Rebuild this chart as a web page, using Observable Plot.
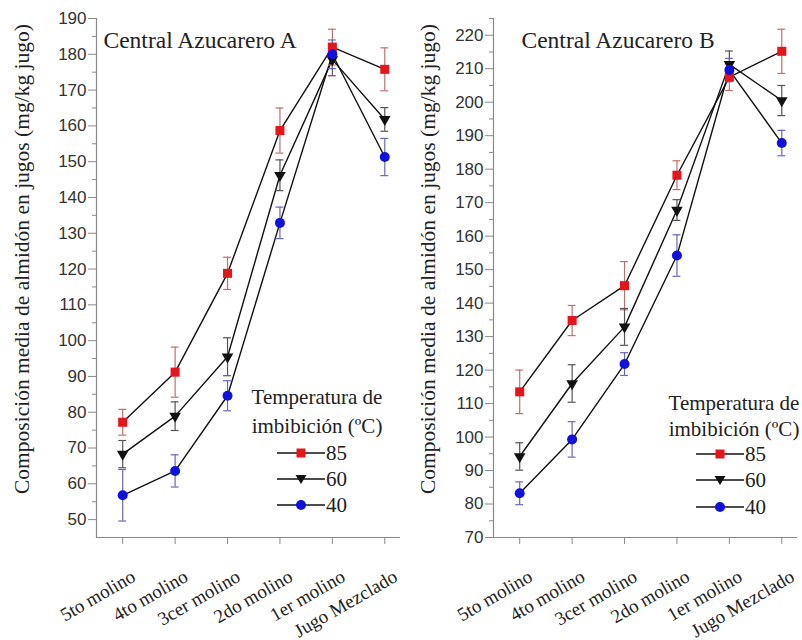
<!DOCTYPE html>
<html><head><meta charset="utf-8">
<script src="https://cdn.jsdelivr.net/npm/d3@7"></script>
<script src="https://cdn.jsdelivr.net/npm/@observablehq/plot@0.6"></script>
<style>
body{margin:0;background:#fff;}
#wrap{position:relative;width:802px;height:640px;overflow:hidden;background:#fff;}
.panel{position:absolute;top:0;}
.leg{position:absolute;font-family:"Liberation Serif","DejaVu Serif",serif;font-size:21px;color:#222;white-space:nowrap;line-height:1;}
</style></head><body><div id="wrap"></div>
<script>
const categories = ["5to molino", "4to molino", "3cer molino", "2do molino", "1er molino", "Jugo Mezclado"];
const temperatures = [85, 60, 40];
const yLabel = "Composición media de almidón en jugos (mg/kg jugo)";
const legendTitle1 = "Temperatura de";
const legendTitle2 = "imbibición (ºC)";
const SERIF = "'Liberation Serif', 'DejaVu Serif', 'Times New Roman', serif";
const SANS = "'Liberation Sans', Arial, sans-serif";

// Central Azucarero A
const meanA85 = [77.2, 91.2, 118.8, 158.7, 182.0, 175.8];
const errA85  = [3.6, 7.0, 4.5, 6.3, 5.0, 6.0];
const meanA60 = [68.3, 78.9, 95.5, 146.2, 178.5, 161.8];
const errA60  = [3.8, 4.0, 5.3, 4.3, 4.5, 3.3];
const meanA40 = [56.8, 63.6, 84.6, 132.9, 180.0, 151.3];
const errA40  = [7.2, 4.5, 4.2, 4.4, 4.0, 5.2];
const yTicksA = [50, 60, 70, 80, 90, 100, 110, 120, 130, 140, 150, 160, 170, 180, 190];
const yMinorA = [55, 65, 75, 85, 95, 105, 115, 125, 135, 145, 155, 165, 175, 185];

// Central Azucarero B
const meanB85 = [113.5, 134.8, 145.2, 178.2, 207.5, 215.2];
const errB85  = [6.5, 4.5, 7.2, 4.3, 4.0, 6.6];
const meanB60 = [94.2, 116.0, 132.9, 167.8, 211.3, 200.5];
const errB60  = [4.1, 5.6, 5.5, 3.1, 4.0, 4.5];
const meanB40 = [83.2, 99.3, 121.8, 154.2, 209.6, 187.8];
const errB40  = [3.4, 5.3, 3.4, 6.2, 3.5, 3.8];
const yTicksB = [70, 80, 90, 100, 110, 120, 130, 140, 150, 160, 170, 180, 190, 200, 210, 220];
const yMinorB = [75, 85, 95, 105, 115, 125, 135, 145, 155, 165, 175, 185, 195, 205, 215, 225];

const styles = {
  85: {fill: "#e8141c", err: "#c07070", symbol: "square", r: 5.1, rotate: 0},
  60: {fill: "#111111", err: "#555555", symbol: "triangle", r: 4.3, rotate: 180},
  40: {fill: "#1010e0", err: "#6868b8", symbol: "circle", r: 5, rotate: 0}
};

function makePanel(title, means, errs, yDomain, yTicks, yMinor, ml, mr, labelDx, titleDx) {
  const xs = categories.map((c, i) => i + 1);
  const series = temperatures.map((t, k) => categories.map((c, i) => ({x: i + 1, cat: c, y: means[k][i], e: errs[k][i], t})));
  const marks = [
    Plot.ruleY([yDomain[0]], {stroke: "#8a8a8a", strokeWidth: 1.2}),
    Plot.ruleX([0.5], {stroke: "#8a8a8a", strokeWidth: 1.2}),
    Plot.axisY({ticks: yMinor, tickSize: 4, text: null, stroke: "#8a8a8a", label: null}),
    Plot.axisY({ticks: yTicks, tickSize: 8, tickPadding: 2, fontSize: 17, fontFamily: SANS, fill: "#333", stroke: "#8a8a8a", label: null}),
    Plot.axisX({ticks: xs, tickSize: 7, text: null, stroke: "#8a8a8a", label: null}),
    Plot.axisX({ticks: xs, tickSize: 0, tickFormat: d => categories[d - 1], tickRotate: -30, dx: 11, dy: 25, fontSize: 19, fontFamily: SERIF, fill: "#222", label: null}),
    Plot.text([yLabel], {frameAnchor: "left", rotate: -90, dx: labelDx, dy: -19, fontSize: 21.5, fontFamily: SERIF, fill: "#222", textAnchor: "middle"}),
    Plot.text([title], {frameAnchor: "top-left", dx: titleDx, dy: 22, fontSize: 23.5, fontFamily: SERIF, fill: "#222", textAnchor: "start", lineAnchor: "middle"})
  ];
  series.forEach(s => marks.push(Plot.line(s, {x: "x", y: "y", stroke: "#111", strokeWidth: 1.4})));
  series.forEach((s, k) => {
    const st = styles[temperatures[k]];
    marks.push(Plot.ruleX(s, {x: "x", y1: d => d.y - d.e, y2: d => d.y + d.e, stroke: st.err, strokeWidth: 1.2}));
    marks.push(Plot.ruleY(s, {y: d => d.y + d.e, x1: d => d.x - 0.075, x2: d => d.x + 0.075, stroke: st.err, strokeWidth: 1.2}));
    marks.push(Plot.ruleY(s, {y: d => d.y - d.e, x1: d => d.x - 0.075, x2: d => d.x + 0.075, stroke: st.err, strokeWidth: 1.2}));
  });
  series.forEach((s, k) => {
    const st = styles[temperatures[k]];
    marks.push(Plot.dot(s, {x: "x", y: "y", symbol: st.symbol, r: st.r, fill: st.fill, stroke: "none", rotate: st.rotate}));
  });
  return Plot.plot({
    width: 401, height: 640,
    marginLeft: ml, marginRight: mr, marginTop: 18, marginBottom: 103,
    x: {domain: [0.5, 6.3]},
    y: {domain: yDomain},
    style: {background: "transparent", overflow: "visible"},
    marks
  });
}

function legend(wrap, titleCx, y1, y2, lineX1, lineX2, ys) {
  const t1 = document.createElement("div");
  t1.className = "leg"; t1.textContent = legendTitle1;
  t1.style.left = (titleCx - 100) + "px"; t1.style.width = "200px"; t1.style.textAlign = "center"; t1.style.top = (y1 - 10.5) + "px";
  wrap.appendChild(t1);
  const t2 = document.createElement("div");
  t2.className = "leg"; t2.textContent = legendTitle2;
  t2.style.left = (titleCx - 100) + "px"; t2.style.width = "200px"; t2.style.textAlign = "center"; t2.style.top = (y2 - 10.5) + "px";
  wrap.appendChild(t2);
  temperatures.forEach((t, k) => {
    const st = styles[t];
    const w = lineX2 - lineX1;
    const cx = w / 2;
    let sym = "";
    if (st.symbol === "square") sym = `<rect x="${cx - 4.5}" y="${7 - 4.5}" width="9" height="9" fill="${st.fill}"/>`;
    else if (st.symbol === "triangle") sym = `<path d="M${cx - 5.5},${7 - 4} L${cx + 5.5},${7 - 4} L${cx},${7 + 5} Z" fill="${st.fill}"/>`;
    else sym = `<circle cx="${cx}" cy="7" r="5" fill="${st.fill}"/>`;
    const svg = document.createElementNS("http://www.w3.org/2000/svg", "svg");
    svg.setAttribute("width", w); svg.setAttribute("height", 14);
    svg.style.position = "absolute"; svg.style.left = lineX1 + "px"; svg.style.top = (ys[k] - 7) + "px";
    svg.innerHTML = `<line x1="0" x2="${w}" y1="7" y2="7" stroke="#111" stroke-width="1.4"/>` + sym;
    wrap.appendChild(svg);
    const lab = document.createElement("div");
    lab.className = "leg"; lab.textContent = String(t);
    lab.style.left = (lineX2 + 1) + "px"; lab.style.top = (ys[k] - 10.5) + "px";
    wrap.appendChild(lab);
  });
}

const wrap = document.getElementById("wrap");
const pA = makePanel("Central Azucarero A", [meanA85, meanA60, meanA40], [errA85, errA60, errA40], [45, 190], yTicksA, yMinorA, 96, 1, -74, 7);
pA.classList.add("panel"); pA.style.left = "0px";
wrap.appendChild(pA);
const pB = makePanel("Central Azucarero B", [meanB85, meanB60, meanB40], [errB85, errB60, errB40], [70, 225], yTicksB, yMinorB, 92, 5, -65, 28);
pB.classList.add("panel"); pB.style.left = "401px";
wrap.appendChild(pB);

legend(wrap, 317, 397, 426, 277, 325, [453, 479, 505]);
legend(wrap, 734, 403, 429, 696, 744, [454, 480, 507]);
</script></body></html>
